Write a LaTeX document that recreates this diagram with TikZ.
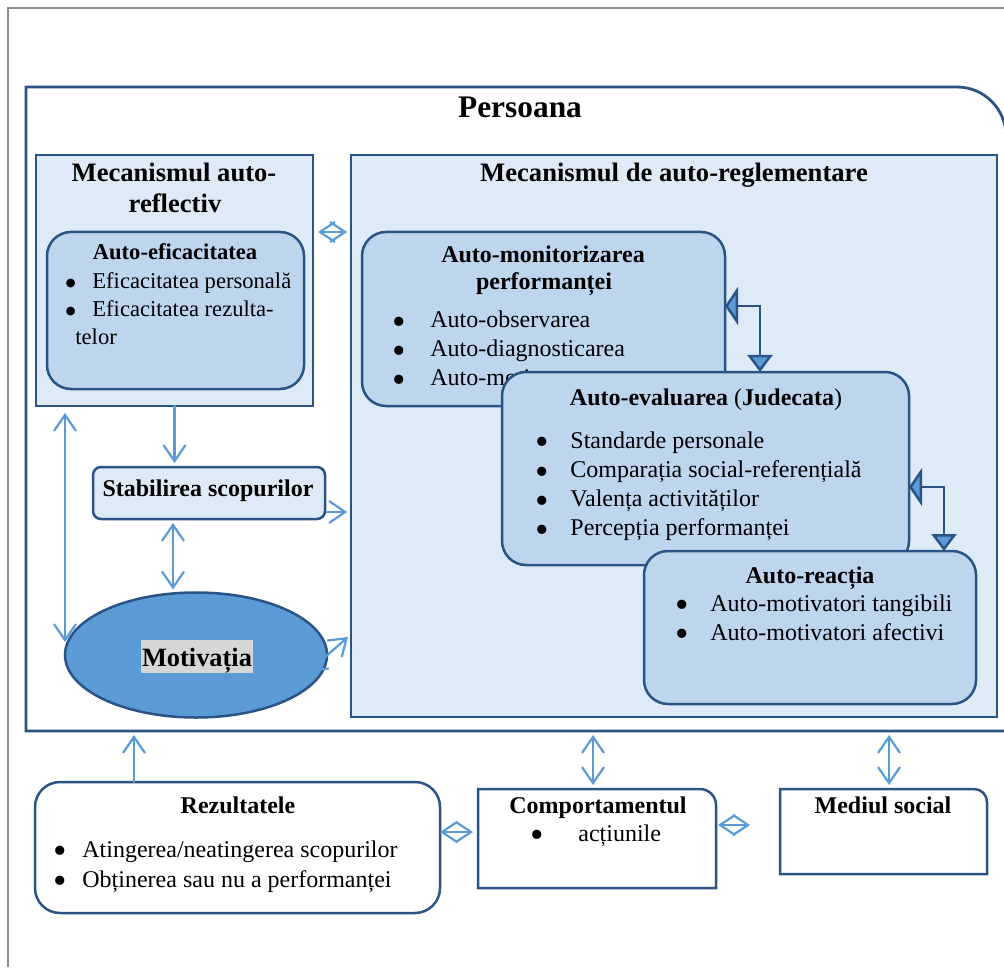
\documentclass[tikz,border=0pt]{standalone}
\usepackage{fontspec}
\setmainfont{Liberation Serif}
\usepackage{tikz}
\usetikzlibrary{arrows.meta}
\usetikzlibrary{positioning}
\usetikzlibrary{shapes.geometric}
\definecolor{dkblue}{HTML}{2A5386}
\definecolor{ltblue}{HTML}{DEEAF6}
\definecolor{mdblue}{HTML}{BDD6EE}
\definecolor{arblue}{HTML}{5B9BD5}
\definecolor{frgray}{HTML}{8C8C8C}
\definecolor{hlgray}{HTML}{D6D6D6}
\newcommand{\bulletbox}[1]{\makebox[#1][l]{\raisebox{-0.28em}[0.5em][0pt]{\scalebox{1.6}{\textbullet}}}}
\tikzset{box/.style = {draw = dkblue, line width = 1.25pt, anchor = north west,
                       inner sep = 0, outer sep = 0}}
\tikzset{pane/.style = {box, fill = ltblue}}
\tikzset{card/.style = {box, fill = mdblue, rounded corners = 12pt}}
\tikzset{ttl/.style = {anchor = base, inner sep = 0, font = \fontsize{15.7}{18}\selectfont\bfseries}}
\tikzset{head/.style = {anchor = base, inner sep = 0, font = \fontsize{13.3}{15}\selectfont\bfseries}}
\tikzset{sub/.style = {anchor = base, inner sep = 0, font = \fontsize{11.3}{13}\selectfont\bfseries}}
\tikzset{bsub/.style = {anchor = base, inner sep = 0, font = \fontsize{12}{14}\selectfont\bfseries}}
\tikzset{txt/.style = {anchor = base west, inner sep = 0, font = \fontsize{11.3}{13}\selectfont}}
\tikzset{btxt/.style = {anchor = base west, inner sep = 0, font = \fontsize{12}{14}\selectfont}}
\tikzset{arr/.style = {draw = arblue, line width = 1.1pt, line cap = round,
                       -{Straight Barb[length = 8pt, width = 11pt]}}}
\tikzset{biarr/.style = {arr, {Straight Barb[length = 8pt, width = 11pt]}-{Straight Barb[length = 8pt, width = 11pt]}}}
\tikzset{dia/.style = {draw = arblue, line width = 1.1pt,
                       {Straight Barb[length = 7.5pt, width = 10pt]}-{Straight Barb[length = 7.5pt, width = 10pt]}}}
\tikzset{elbow/.style = {draw = dkblue, line width = 1.25pt,
                         {Triangle[length = 6.5pt, width = 19pt, fill = arblue]}-{Triangle[length = 8.5pt, width = 12.5pt, fill = arblue]}}}

\begin{document}
\begin{tikzpicture}[x = 0.5pt, y = -0.5pt]
  \path [use as bounding box, clip] (0, 0) rectangle (1004, 967);
  \draw [frgray, line width = 1pt] (8, 967) -- (8, 8) -- (1004, 8);

  % Persoana
  \node [box, draw = none, minimum width = 490pt, minimum height = 322pt] (pers) at (26, 87) {};
  \draw [dkblue, line width = 1.4pt] (pers.south west) -- (pers.north west)
    -- ([xshift = -24.5pt]pers.north east)
    .. controls ([xshift = -11pt]pers.north east) and ([yshift = -11pt]pers.north east)
    .. ([yshift = -24.5pt]pers.north east) -- (pers.south east) -- cycle;
  \node [ttl] (t-pers) at (520, 118) {Persoana};

  % mecanismul auto-reflectiv
  \node [pane, minimum width = 138.5pt, minimum height = 125.5pt] (refl) at (36, 155) {};
  \node [head] (t-refl-a) at (174, 182) {Mecanismul auto-};
  \node [head] (t-refl-b) at (175, 213) {reflectiv};
  \node [card, minimum width = 128.5pt, minimum height = 78.5pt] (efic) at (47, 232) {};
  \node [sub] (t-efic) at (175, 260) {Auto-eficacitatea};
  \node [txt] (efic-1) at (64, 289) {\bulletbox{14pt}Eficacitatea personală};
  \node [txt] (efic-2) at (64, 317) {\bulletbox{14pt}Eficacitatea rezulta-};
  \node [txt] (efic-3) at (75, 344) {telor};

  % mecanismul de auto-reglementare
  \node [pane, minimum width = 323pt, minimum height = 281pt] (regl) at (351, 155) {};
  \node [head] (t-regl) at (674, 182) {Mecanismul de auto-reglementare};
  \node [card, minimum width = 181.5pt, minimum height = 87pt] (monit) at (362, 232) {};
  \node [bsub] (t-monit-a) at (543, 263) {Auto-monitorizarea};
  \node [bsub] (t-monit-b) at (544, 290) {performanței};
  \foreach \t [count = \i] in {Auto-observarea, Auto-diagnosticarea, Auto-motivarea}
    \node [btxt] (monit-\i) at (392, {328 + 29*(\i - 1)}) {\bulletbox{19pt}\t};
  \node [card, minimum width = 203.5pt, minimum height = 96.5pt] (eval) at (502, 372) {};
  \node [bsub] (t-eval) at (706, 405) {Auto-evaluarea \textmd{(}Judecata\textmd{)}};
  \foreach \t [count = \i] in {Standarde personale, Comparația social-referențială,
                               Valența activităților, Percepția performanței}
    \node [btxt] (eval-\i) at (535, {448 + 29.3*(\i - 1)}) {\bulletbox{17.5pt}\t};
  \node [card, minimum width = 166pt, minimum height = 76.5pt] (react) at (644, 551) {};
  \node [bsub] (t-react) at (810, 583) {Auto-reacția};
  \foreach \t [count = \i] in {Auto-motivatori tangibili, Auto-motivatori afectivi}
    \node [btxt] (react-\i) at (675, {611 + 29*(\i - 1)}) {\bulletbox{17.5pt}\t};

  % scopuri si motivatie
  \node [pane, rounded corners = 4pt, minimum width = 116pt, minimum height = 26pt] (stab) at (93, 467) {};
  \node [bsub] (t-stab) at (208, 496) {Stabilirea scopurilor};
  \node [draw = dkblue, line width = 1.25pt, fill = arblue, ellipse, inner sep = 0, outer sep = 0,
         minimum width = 131pt, minimum height = 62.5pt] (motiv) at (196, 655) {};
  \node [anchor = base, fill = hlgray, inner xsep = 0.5pt, inner ysep = 1pt, text height = 12pt,
         text depth = 2.5pt, font = \fontsize{13.2}{15}\selectfont\bfseries] (t-motiv) at (197, 666) {Motivația};

  % jos
  \node [box, fill = white, rounded corners = 12.5pt, minimum width = 202.5pt, minimum height = 65.5pt] (rez) at (35, 782) {};
  \node [bsub] (t-rez) at (238, 813) {Rezultatele};
  \node [btxt] (rez-1) at (53, 857) {\bulletbox{14.5pt}Atingerea/neatingerea scopurilor};
  \node [btxt] (rez-2) at (53, 887) {\bulletbox{14.5pt}Obținerea sau nu a performanței};
  \node [box, draw = none, minimum width = 119pt, minimum height = 49.5pt] (comp) at (478, 789) {};
  \draw [dkblue, line width = 1.25pt] (comp.south west) -- (comp.north west)
    -- ([xshift = -8pt]comp.north east)
    .. controls ([xshift = -3.6pt]comp.north east) and ([yshift = -3.6pt]comp.north east)
    .. ([yshift = -8pt]comp.north east) -- (comp.south east) -- cycle;
  \node [bsub] (t-comp) at (598, 813) {Comportamentul};
  \node [btxt] (comp-1) at (530, 841) {\bulletbox{24pt}acțiunile};
  \node [box, draw = none, minimum width = 103.5pt, minimum height = 42.5pt] (med) at (780, 789) {};
  \draw [dkblue, line width = 1.25pt] (med.south west) -- (med.north west)
    -- ([xshift = -6.5pt]med.north east)
    .. controls ([xshift = -2.9pt]med.north east) and ([yshift = -2.9pt]med.north east)
    .. ([yshift = -6.5pt]med.north east) -- (med.south east) -- cycle;
  \node [bsub] (t-med) at (883, 813) {Mediul social};

  % sageti
  \draw [dia, shorten <= 2.5pt, shorten >= 2pt] (refl.east |- efic.north) -- (regl.west |- efic.north);
  \draw [elbow] ([yshift = 6.5pt]monit.east) -| ([xshift = 27.25pt]eval.north);
  \draw [elbow] ([yshift = -9.25pt]eval.east) -| ([xshift = 67pt]react.north);
  \draw [arr, shorten >= 2pt] (refl.south) -- (refl.south |- stab.north);
  \draw [biarr, shorten <= 3.5pt] (motiv.west |- refl.south) -- ([yshift = 6.5pt]motiv.west);
  \draw [biarr, shorten <= 2pt, shorten >= 1.5pt] ([xshift = -18pt]stab.south) -- ([xshift = -18pt]stab.south |- motiv.north);
  \draw [arr, shorten <= 1pt, shorten >= 2pt] ([yshift = 3.5pt]stab.south east) -- ([yshift = 3.5pt]stab.south east -| regl.west);
  \draw [biarr] ([xshift = -9.5pt, yshift = -8.5pt]motiv.east) -- ([xshift = -1.5pt, yshift = 9pt]motiv.east -| regl.west);
  \draw [arr, shorten >= 2pt] ([xshift = 49.5pt]rez.north west) -- ([xshift = 49.5pt]rez.north west |- pers.south);
  \draw [biarr, shorten <= 2pt, shorten >= 2pt] ([xshift = -2pt]comp.north) -- ([xshift = -2pt]comp.north |- pers.south);
  \draw [biarr, shorten <= 2pt, shorten >= 2pt] ([xshift = 2.75pt]med.north) -- ([xshift = 2.75pt]med.north |- pers.south);
  \draw [dia, shorten >= 2.5pt] ([yshift = 7.75pt]rez.east) -- ([yshift = 7.75pt]rez.east -| comp.west);
  \draw [dia, shorten <= 1pt, shorten >= 15pt] ([yshift = 6.75pt]comp.east) -- ([yshift = 6.75pt]comp.east -| med.west);
\end{tikzpicture}
\end{document}
